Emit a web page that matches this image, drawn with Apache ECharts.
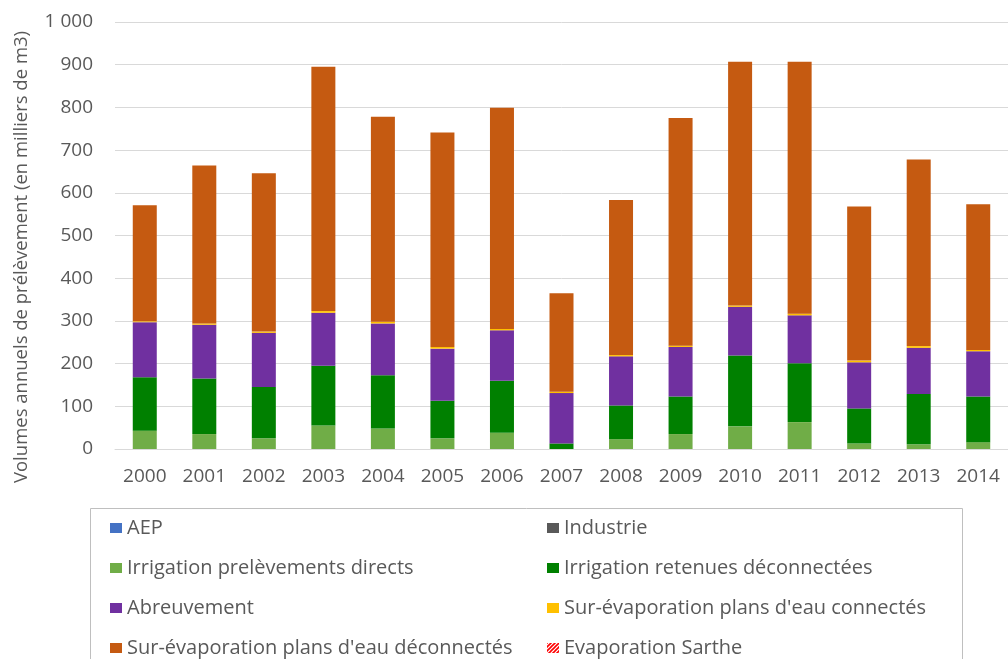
<!DOCTYPE html>
<html>
<head>
<meta charset="utf-8">
<script src="https://cdn.jsdelivr.net/npm/echarts@6/dist/echarts.min.js"></script>
<style>
html,body{margin:0;padding:0;background:#fff;}
#chart{width:1008px;height:659px;}
</style>
</head>
<body>
<div id="chart"></div>
<script>
const years = ['2000','2001','2002','2003','2004','2005','2006','2007','2008','2009','2010','2011','2012','2013','2014'];
const aep = [0,0,0,0,0,0,0,0,0,0,0,0,0,0,0];
const industrie = [0,0,0,0,0,0,0,0,0,0,0,0,0,0,0];
const irrigDirects = [43,35,25,55,48,25,38,0,23,35,53,63,13,11,16];
const irrigRetenues = [125,130,120,140,125,88,122,13,79,88,166,138,82,118,107];
const abreuvement = [129,126,127,124,121,122,118,118,115,116,114,112,108,108,106];
const surEvapConnectes = [2,3,3,4,4,4,3,3,3,3,3,4,4,4,3];
const surEvapDeconnectes = [272,370,371,572,480,502,518,231,363,533,571,590,361,437,341];
const evapSarthe = [0,0,0,0,0,0,0,0,0,0,0,0,0,0,0];
const yTicks = [0,100,200,300,400,500,600,700,800,900,1000];
const yTitle = 'Volumes annuels de prélèvement (en milliers de m3)';

const FONT = '"Open Sans", "Noto Sans", sans-serif';
const TXT = '#595959';

// hatched pattern for Evaporation Sarthe
const pc = document.createElement('canvas');
pc.width = 4; pc.height = 4;
const g = pc.getContext('2d');
g.fillStyle = '#fff'; g.fillRect(0,0,4,4);
g.strokeStyle = '#ff0000'; g.lineWidth = 1.6;
g.beginPath(); g.moveTo(-1,5); g.lineTo(5,-1); g.stroke();
g.beginPath(); g.moveTo(-1,1); g.lineTo(1,-1); g.stroke();
g.beginPath(); g.moveTo(3,5); g.lineTo(5,3); g.stroke();
const hatch = {image: pc, repeat: 'repeat'};

function bar(name, data, color) {
  return {name, type:'bar', stack:'total', data, barWidth:24,
          itemStyle:{color}, emphasis:{disabled:true}};
}

const chart = echarts.init(document.getElementById('chart'), null, {renderer:'canvas'});
const legendCommon = {
  orient:'vertical', top:518, padding:0, itemWidth:12, itemHeight:10, itemGap:20,
  icon:'rect', selectedMode:false,
  textStyle:{color:TXT, fontSize:20, fontFamily:FONT, lineHeight:20}
};
chart.setOption({
  animation:false,
  backgroundColor:'#fff',
  grid:{left:115, top:22, width:901, height:427, containLabel:false},
  xAxis:{type:'category', data:years,
    axisLine:{lineStyle:{color:'#d9d9d9'}}, axisTick:{show:false},
    axisLabel:{color:TXT, fontSize:19, fontFamily:FONT, margin:18, interval:0}},
  yAxis:{type:'value', min:yTicks[0], max:yTicks[yTicks.length-1], interval:100,
    axisLine:{show:false}, axisTick:{show:false},
    splitLine:{lineStyle:{color:'#d9d9d9', width:1}},
    axisLabel:{color:TXT, fontSize:19, fontFamily:FONT, margin:22,
      formatter:v => String(v).replace(/\B(?=(\d{3})+(?!\d))/g,' ')}},
  legend:[
    Object.assign({left:110, data:['AEP','Irrigation prelèvements directs','Abreuvement','Sur-évaporation plans d\'eau déconnectés']}, legendCommon),
    Object.assign({left:547, data:['Industrie','Irrigation retenues déconnectées','Sur-évaporation plans d\'eau connectés','Evaporation Sarthe']}, legendCommon)
  ],
  graphic:[
    {type:'rect', shape:{x:90.5, y:508.5, width:872, height:200}, style:{fill:null, stroke:'#bfbfbf', lineWidth:1}, silent:true},
    {type:'text', x:22, y:257, rotation:Math.PI/2, silent:true,
      style:{text:yTitle, fill:TXT, font:'18.5px ' + FONT, textAlign:'center', textVerticalAlign:'middle'}}
  ],
  series:[
    bar('AEP', aep, '#4472c4'),
    bar('Industrie', industrie, '#595959'),
    bar('Irrigation prelèvements directs', irrigDirects, '#70ad47'),
    bar('Irrigation retenues déconnectées', irrigRetenues, '#008000'),
    bar('Abreuvement', abreuvement, '#7030a0'),
    bar('Sur-évaporation plans d\'eau connectés', surEvapConnectes, '#ffc000'),
    bar('Sur-évaporation plans d\'eau déconnectés', surEvapDeconnectes, '#c55a11'),
    bar('Evaporation Sarthe', evapSarthe, hatch)
  ]
});
</script>
</body>
</html>
